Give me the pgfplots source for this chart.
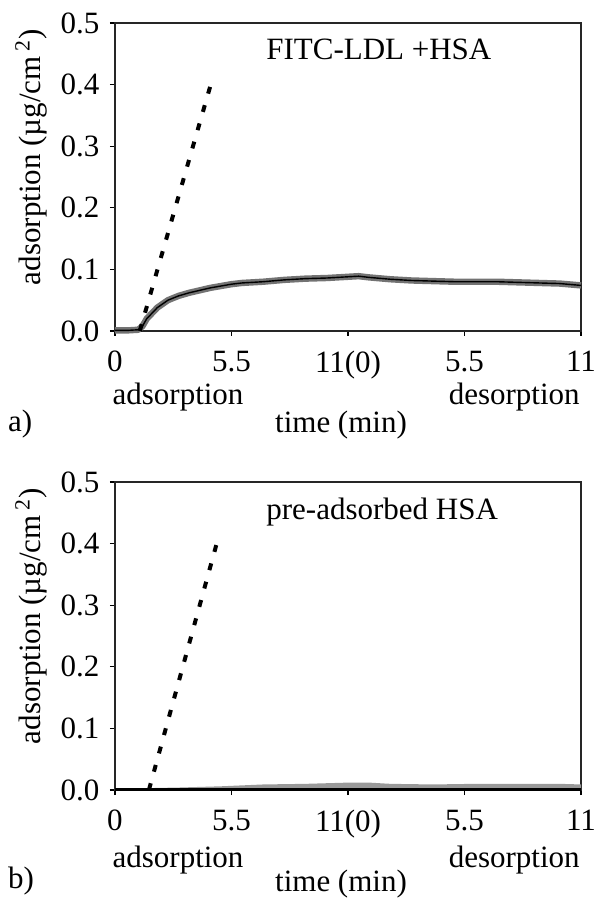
\documentclass[border=0pt]{standalone}
\usepackage{fontspec}
\setmainfont{Liberation Serif}
\usepackage{pgfplots}
\pgfplotsset{compat=1.18}

% mean of the noisy trace, panel a
\pgfplotstableread{
t y
0    0.001
0.6  0.001
1.1  0.002
1.3  0.008
1.5  0.020
2.0  0.038
2.5  0.050
3.0  0.057
3.5  0.062
4.0  0.066
4.5  0.070
5.0  0.073
5.5  0.076
6.0  0.078
7.0  0.080
8.0  0.083
9.0  0.085
10.0 0.086
11.0 0.088
11.5 0.089
12.0 0.087
13.0 0.084
14.0 0.082
15.0 0.081
16.0 0.080
17.0 0.080
18.0 0.080
19.0 0.079
20.0 0.078
21.0 0.077
22.0 0.074
}\tracea

% upper edge of the trace, panel b
\pgfplotstableread{
t y
0    0.003
1.5  0.003
3.0  0.004
5.0  0.006
7.0  0.009
9.0  0.010
11.0 0.012
12.0 0.012
13.0 0.010
15.0 0.009
17.0 0.010
19.0 0.010
21.0 0.010
22.0 0.009
}\traceb

\tikzset{lab/.style={inner sep=0pt}}

\pgfplotsset{
  panel/.style={
    scale only axis, width=233pt, height=154pt,
    xmin=0, xmax=22, ymin=0, ymax=0.5, clip=false,
    xtick={0,5.5,11,16.5,22},
    xticklabels={0,5.5,11(0),5.5,11},
    ytick={0,0.1,0.2,0.3,0.4,0.5},
    yticklabel style={/pgf/number format/.cd,fixed,fixed zerofill,precision=1},
    xticklabel style={yshift=-2pt},
    /pgf/number format/assume math mode=true,
    tick pos=left, tick align=outside, major tick length=2.5pt,
    axis line style={black!85, line width=0.7pt},
    every tick/.style={black, line width=0.6pt},
    xlabel={time (min)},
    xlabel style={at={(axis description cs:0.485,-0.328)}, anchor=base},
    ylabel={adsorption (µg/cm\,\textsuperscript{2})},
    ylabel style={at={(axis description cs:-0.18,0.565)}, anchor=center},
  },
  band/.style={black!55, line width=3.2pt, line cap=butt, line join=round},
  trace/.style={black, line width=0.7pt},
  rate/.style={black, line width=2pt, dash pattern=on 3.5pt off 6pt},
}

\begin{document}
\fontsize{15.5pt}{18pt}\selectfont
\begin{tikzpicture}
\useasboundingbox (0,0) rectangle (302pt,452pt);

\begin{axis}[panel, at={(57.5pt,286.5pt)}, anchor=south west]
\addplot[band] table {\tracea};
\addplot[trace] table {\tracea};
\addplot[rate] coordinates {(1.17,0) (4.52,0.4)};
\node[lab, anchor=base west] at (axis description cs:0.324,0.88) {FITC-LDL +HSA};
\node[lab, anchor=base west] at (axis description cs:-0.006,-0.24) {adsorption};
\node[lab, anchor=base east] at (axis description cs:0.998,-0.24) {desorption};
\node[lab, anchor=base west] at (axis description cs:-0.23,-0.325) {a)};
\end{axis}

\begin{axis}[panel, at={(57.5pt,57pt)}, anchor=south west]
\addplot[fill=black!40, draw=none] table {\traceb} \closedcycle;
\addplot[black, line width=1.6pt] coordinates {(0,0.001) (22,0.001)};
\addplot[rate] coordinates {(1.6,0) (4.8,0.4)};
\node[lab, anchor=base west] at (axis description cs:0.324,0.879) {pre-adsorbed HSA};
\node[lab, anchor=base west] at (axis description cs:-0.006,-0.25) {adsorption};
\node[lab, anchor=base east] at (axis description cs:0.998,-0.25) {desorption};
\node[lab, anchor=base west] at (axis description cs:-0.23,-0.32) {b)};
\end{axis}
\end{tikzpicture}
\end{document}
